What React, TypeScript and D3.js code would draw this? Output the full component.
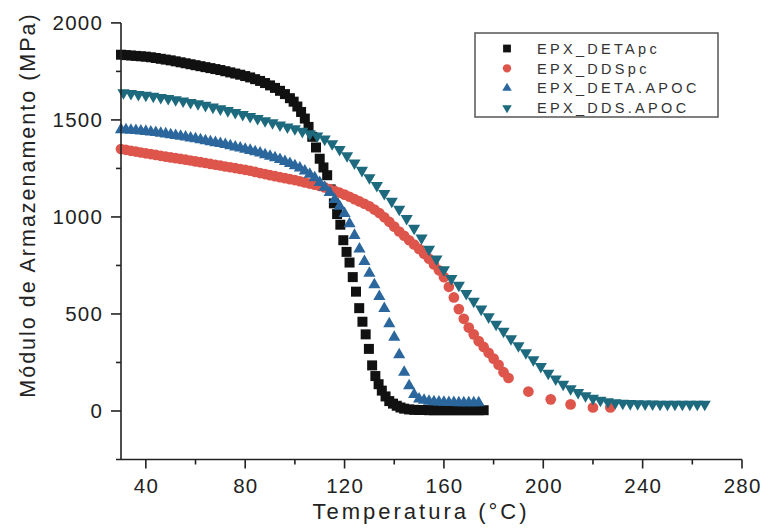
import React from 'react';
import * as d3 from 'd3';

const W = 763;
const H = 528;

// EPX_DETApc (black squares)
const detaPcT = [30,32,34,36,38,40,42,44,46,48,50,52,54,56,58,60,62,64,66,68,70,72,74,76,78,80,82,84,86,88,90,92,94,96,98,99.5,101,102.5,104,105.5,107,108.5,110,111.5,113.0,114.4,115.7,117.0,118.3,119.5,120.8,122.0,123.3,124.6,125.9,127.2,128.5,129.8,131.1,132.4,133.7,135.0,136.5,138.0,139.5,141.0,142.5,144,146,148,150,152,154,156,158,160,162,164,166,168,170,172,174,176];
const detaPcE = [1836,1834,1832,1830,1828,1826,1823,1819,1815,1811,1807,1802,1797,1792,1787,1782,1777,1772,1767,1762,1757,1751,1745,1739,1733,1726,1719,1710,1701,1690,1678,1665,1650,1633,1612,1594,1569,1541,1507,1464,1413,1358,1300,1255,1215,1142,1070,1015,960,880,820,765,690,615,530,460,395,320,235,180,138,105,75,51,38,27,18,12,8,6,5,5,4,4,4,4,4,4,4,4,4,4,4,4];

// EPX_DDSpc (red circles)
const ddsPcT = [30,32,34,36,38,40,42,44,46,48,50,52,54,56,58,60,62,64,66,68,70,72,74,76,78,80,82,84,86,88,90,92,94,96,98,100,102,104,106,108,110,112,114,116,118,120,122,124,126,128,130,132,134,136,138,140,142,144,146,148,150,152,154,156,158,160,162,164,166,168,170,172,174,176,178,180,182,184,186,194,203,211,220,227];
const ddsPcE = [1350,1346,1341,1337,1332,1328,1324,1320,1315,1311,1307,1303,1299,1295,1291,1286,1282,1278,1273,1269,1265,1260,1256,1252,1247,1243,1238,1232,1226,1221,1215,1210,1205,1200,1195,1190,1184,1178,1172,1166,1160,1152,1143,1134,1125,1115,1104,1092,1080,1068,1055,1038,1020,998,975,950,925,903,880,858,835,810,785,755,725,690,640,585,525,475,430,395,360,330,300,270,238,200,170,100,60,34,18,18];

// EPX_DETA.APOC (blue up-triangles)
const detaApocT = [30,32,34,36,38,40,42,44,46,48,50,52,54,56,58,60,62,64,66,68,70,72,74,76,78,80,82,84,86,88,90,92,94,96,98,100,102,104,106,108,110,112,114,116,118,120,122,124,126,128,130,132,134,136,138,140,142,144,146,148,150,152,154,156,158,160,162,164,166,168,170,172,174];
const detaApocE = [1450,1449,1447,1445,1443,1441,1438,1435,1431,1428,1424,1420,1416,1412,1407,1403,1398,1393,1388,1383,1378,1373,1367,1361,1355,1349,1343,1336,1329,1321,1313,1305,1296,1286,1275,1264,1252,1237,1220,1202,1178,1153,1126,1090,1055,1018,965,905,835,770,710,650,590,528,450,380,290,200,130,85,62,55,50,48,46,45,44,44,43,43,43,43,43];

// EPX_DDS.APOC (teal down-triangles)
const ddsApocT = [31,34,37,40,43,46,49,52,55,58,61,64,67,70,73,76,79,82,85,88,91,94,97,100,103,106,109,112,115,118,121,124,127,130,133,136,139,142,145,148,151,154,157,160,163,166,169,172,175,178,181,184,187,190,193,196,199,202,205,208,211,214,217,220,223,226,229,232,235,238,241,244,247,250,253,256,259,262,265];
const ddsApocE = [1640,1636,1631,1627,1622,1616,1610,1604,1597,1590,1583,1575,1566,1557,1548,1538,1528,1518,1507,1496,1485,1474,1464,1454,1441,1429,1417,1401,1377,1348,1315,1278,1240,1202,1162,1121,1081,1040,992,942,892,833,783,728,683,648,605,565,525,485,447,411,372,336,300,264,229,195,165,138,115,95,78,65,55,48,43,40,38,37,36,36,35,35,35,35,35,35,35];

const seriesNames = ['EPX_DETApc', 'EPX_DDSpc', 'EPX_DETA.APOC', 'EPX_DDS.APOC'];
const seriesColors = ['#111111', '#dd554b', '#2b679c', '#1d6a7e'];

const xMajorTicks = [40, 80, 120, 160, 200, 240, 280];
const xMinorTicks = [60, 100, 140, 180, 220, 260];
const yMajorTicks = [0, 500, 1000, 1500, 2000];
const yMinorTicks = [250, 750, 1250, 1750];

const FONT = '"Liberation Sans", Arial, Helvetica, sans-serif';

export default function App() {
  const x = d3.scaleLinear().domain([30, 280]).range([121, 742]);
  const y = d3.scaleLinear().domain([-250, 2000]).range([459.5, 22.9]);

  const sq = d3.symbol().type(d3.symbolSquare).size(100)() as string;
  const circ = d3.symbol().type(d3.symbolCircle).size(90)() as string;
  const tri = d3.symbol().type(d3.symbolTriangle).size(64)() as string;

  const series = [
    { t: detaPcT, e: detaPcE, path: sq, rot: 0 },
    { t: ddsPcT, e: ddsPcE, path: circ, rot: 0 },
    { t: detaApocT, e: detaApocE, path: tri, rot: 0 },
    { t: ddsApocT, e: ddsApocE, path: tri, rot: 180 },
  ];

  const x0 = x.range()[0];
  const yb = y.range()[0];

  return (
    <svg width={W} height={H} style={{ position: 'absolute', left: 0, top: 0, background: '#fff' }}>
      <rect x={0} y={0} width={W} height={H} fill="#fff" />
      {/* data */}
      {series.map((s, si) => (
        <g key={si} fill={seriesColors[si]}>
          {s.t.map((t, i) => (
            <path key={i} d={s.path} transform={`translate(${x(t)},${y(s.e[i])}) rotate(${s.rot})`} />
          ))}
        </g>
      ))}
      {/* axes */}
      <g stroke="#222" strokeWidth={1.6} fill="none">
        <line x1={x0} x2={x0} y1={y(2000)} y2={yb} />
        <line x1={x0 - 5} x2={x(280)} y1={yb} y2={yb} />
        {yMajorTicks.map((v) => (
          <line key={'ym' + v} x1={x0 - 10} x2={x0} y1={y(v)} y2={y(v)} />
        ))}
        {yMinorTicks.map((v) => (
          <line key={'yn' + v} x1={x0 - 5} x2={x0} y1={y(v)} y2={y(v)} />
        ))}
        {xMajorTicks.map((v) => (
          <line key={'xm' + v} x1={x(v)} x2={x(v)} y1={yb} y2={yb + 9} />
        ))}
        {xMinorTicks.map((v) => (
          <line key={'xn' + v} x1={x(v)} x2={x(v)} y1={yb} y2={yb + 5} />
        ))}
      </g>
      <g fontFamily={FONT} fontSize={20.5} fill="#222" letterSpacing={1.2}>
        {yMajorTicks.map((v) => (
          <text key={'yl' + v} x={x0 - 18} y={y(v) + 7.5} textAnchor="end">{v}</text>
        ))}
        {xMajorTicks.map((v) => (
          <text key={'xl' + v} x={x(v) + 0.6} y={yb + 33} textAnchor="middle">{v}</text>
        ))}
      </g>
      <text x={421} y={519} textAnchor="middle" fontFamily={FONT} fontSize={22} letterSpacing={3} fill="#222">
        Temperatura (°C)
      </text>
      <text
        transform={`translate(35,205) rotate(-90)`}
        textAnchor="middle"
        fontFamily={FONT}
        fontSize={21.5}
        letterSpacing={2}
        fill="#222"
      >
        Módulo de Armazenamento (MPa)
      </text>
      {/* legend */}
      <rect x={475} y={33} width={243} height={84} fill="#fff" stroke="#555" strokeWidth={1.5} />
      {seriesNames.map((name, i) => {
        const cy = 48.5 + i * 19.8;
        return (
          <g key={name}>
            <path d={series[i].path} fill={seriesColors[i]} transform={`translate(507,${cy}) rotate(${series[i].rot}) scale(0.78)`} />
            <text x={537} y={cy + 5.2} fontFamily={FONT} fontSize={14.5} letterSpacing={3.3} fill="#333">
              {name}
            </text>
          </g>
        );
      })}
    </svg>
  );
}
